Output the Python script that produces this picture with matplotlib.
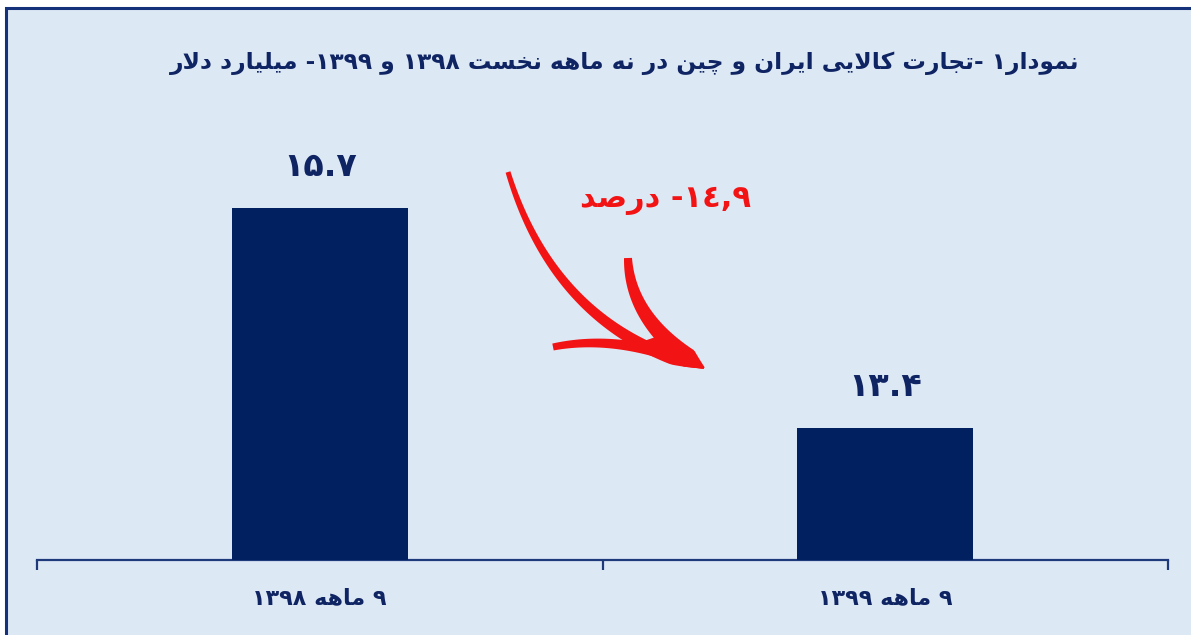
import re
import numpy as np
import matplotlib
matplotlib.use('Agg')
import matplotlib.pyplot as plt
from matplotlib.patches import Rectangle

# data
categories = ['۹ ماهه ۱۳۹۸', '۹ ماهه ۱۳۹۹']
values = [15.7, 13.4]
value_labels = ['۱۵.۷', '۱۳.۴']
title = 'نمودار۱ -تجارت کالایی ایران و چین در نه ماهه نخست ۱۳۹۸ و ۱۳۹۹- میلیارد دلار'
change_label = '١٤,٩- درصد'

W, H = 1191, 635
BG = '#dde8f5'
NAVY = '#002060'
TEXT = '#0f2462'
RED = '#f21414'

plt.rcParams['font.family'] = ['DejaVu Sans']

# minimal arabic/persian shaping: (isolated, final, initial, medial)
FORMS = {
    'ا': ('\uFE8D', '\uFE8E', None, None),
    'د': ('\uFEA9', '\uFEAA', None, None),
    'ر': ('\uFEAD', '\uFEAE', None, None),
    'و': ('\uFEED', '\uFEEE', None, None),
    'ت': ('\uFE95', '\uFE96', '\uFE97', '\uFE98'),
    'ج': ('\uFE9D', '\uFE9E', '\uFE9F', '\uFEA0'),
    'چ': ('\uFB7A', '\uFB7B', '\uFB7C', '\uFB7D'),
    'خ': ('\uFEA5', '\uFEA6', '\uFEA7', '\uFEA8'),
    'س': ('\uFEB1', '\uFEB2', '\uFEB3', '\uFEB4'),
    'ص': ('\uFEB9', '\uFEBA', '\uFEBB', '\uFEBC'),
    'ک': ('\uFB8E', '\uFB8F', '\uFB90', '\uFB91'),
    'ل': ('\uFEDD', '\uFEDE', '\uFEDF', '\uFEE0'),
    'م': ('\uFEE1', '\uFEE2', '\uFEE3', '\uFEE4'),
    'ن': ('\uFEE5', '\uFEE6', '\uFEE7', '\uFEE8'),
    'ه': ('\uFEE9', '\uFEEA', '\uFEEB', '\uFEEC'),
    'ی': ('\uFBFC', '\uFBFD', '\uFBFE', '\uFBFF'),
}


def dual(c):
    return c in FORMS and FORMS[c][2] is not None


def shape(s):
    out = []
    i = 0
    while i < len(s):
        c = s[i]
        if c not in FORMS:
            out.append(c)
            i += 1
            continue
        prev_join = i > 0 and dual(s[i - 1])
        if c == 'ل' and i + 1 < len(s) and s[i + 1] == 'ا':
            out.append('\uFEFC' if prev_join else '\uFEFB')
            i += 2
            continue
        next_join = dual(c) and i + 1 < len(s) and s[i + 1] in FORMS
        iso, fin, ini, med = FORMS[c]
        if prev_join and next_join:
            out.append(med)
        elif prev_join:
            out.append(fin)
        elif next_join:
            out.append(ini)
        else:
            out.append(iso)
        i += 1
    rev = ''.join(out)[::-1]
    # digit runs stay left to right
    return re.sub(r'[\u0660-\u0669\u06F0-\u06F9][\u0660-\u0669\u06F0-\u06F9.,]*',
                  lambda m: m.group(0)[::-1], rev)


def stroke(ax, p0, p1, p2, w0, w1, n=80):
    p0, p1, p2 = np.array(p0, float), np.array(p1, float), np.array(p2, float)
    t = np.linspace(0, 1, n)[:, None]
    pts = (1 - t) ** 2 * p0 + 2 * (1 - t) * t * p1 + t ** 2 * p2
    d = 2 * (1 - t) * (p1 - p0) + 2 * t * (p2 - p1)
    nrm = np.column_stack([-d[:, 1], d[:, 0]]) / np.linalg.norm(d, axis=1)[:, None]
    w = (w0 + (w1 - w0) * t[:, 0]) * np.minimum(1, (1 - t[:, 0]) / 0.12 + 0.1)
    left = pts + nrm * w[:, None] / 2
    right = pts - nrm * w[:, None] / 2
    poly = np.vstack([left, right[::-1]])
    ax.fill(poly[:, 0], poly[:, 1], color=RED, lw=0, zorder=5)
    return pts


fig = plt.figure(figsize=(W / 100, H / 100), dpi=100)
fig.patch.set_facecolor('white')
fig.patches.append(Rectangle((6 / W, -0.02), 1.05, 1 - 8 / H + 0.02, transform=fig.transFigure,
                             facecolor=BG, edgecolor='#14317a', lw=2.2, zorder=-5))

ax = fig.add_axes([37 / W, 1 - 560 / H, (1168 - 37) / W, 430 / H])
ax.set_facecolor('none')
x = np.arange(len(categories))
ax.bar(x, values, width=0.311, color=NAVY, zorder=3)
ax.set_xlim(-0.5, len(categories) - 0.5)
ax.set_ylim(12.02, 12.02 + 430 / 95.65)

for xi, v, lab in zip(x, values, value_labels):
    ax.annotate(lab, (xi, v), xytext=(0, 30), textcoords='offset points',
                ha='center', va='center', fontsize=24, fontweight='bold', color=TEXT)

for s in ['left', 'right', 'top']:
    ax.spines[s].set_visible(False)
ax.spines['bottom'].set_color('#1f3a7a')
ax.spines['bottom'].set_linewidth(1.6)
ax.set_yticks([])
ax.set_xticks(np.arange(len(categories) + 1) - 0.5, labels=[''] * (len(categories) + 1))
ax.tick_params(axis='x', which='major', length=7.5, width=1.6, color='#1f3a7a')
ax.set_xticks(x, labels=[shape(c) for c in categories], minor=True)
ax.tick_params(axis='x', which='minor', length=0, pad=20, labelsize=16, labelcolor=TEXT)
for t in ax.get_xticklabels(minor=True):
    t.set_fontweight('bold')

fig.text(625 / W, 1 - 63 / H, shape(title), ha='center', va='center',
         fontsize=16.8, fontweight='bold', color=TEXT)
fig.text(665 / W, 1 - 201 / H, shape(change_label), ha='center', va='center',
         fontsize=22, fontweight='bold', color=RED)

# hand-drawn style red arrow
ov = fig.add_axes([0, 0, 1, 1])
ov.set_xlim(0, W)
ov.set_ylim(H, 0)
ov.axis('off')
tip = (704, 368)
shaft = stroke(ov, (508, 172), (556, 330), tip, 5, 14)
upper = stroke(ov, (628, 258), (630, 323), tip, 8, 20)
lower = stroke(ov, (553, 347), (622, 333), tip, 7, 13)
head = np.array([upper[52], tip, lower[58], shaft[60]])
ov.fill(head[:, 0], head[:, 1], color=RED, lw=0, zorder=5)

fig.savefig('out.png', dpi=100, facecolor=fig.get_facecolor())
